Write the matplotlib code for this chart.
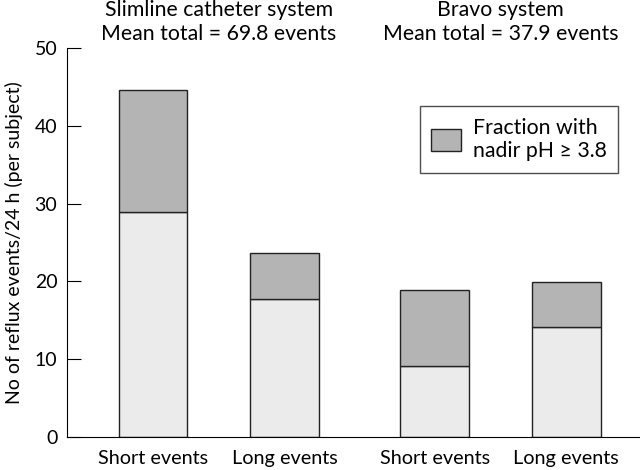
import numpy as np
import matplotlib.pyplot as plt
from matplotlib.patches import Patch

categories = ['Short events', 'Long events', 'Short events', 'Long events']
total = [44.6, 23.6, 18.9, 19.9]
lower = [28.9, 17.7, 9.1, 14.2]
upper = [t - l for t, l in zip(total, lower)]
x = [0, 1, 2.14, 3.14]

plt.rcParams['font.family'] = ['Lato', 'DejaVu Sans']

fig = plt.figure(figsize=(6.4, 4.7), dpi=100)
ax = fig.add_axes([0.1047, 0.0702, 0.8953, 0.8277])

ax.bar(x, lower, width=0.52, color='#ebebeb', edgecolor='#222222', linewidth=1)
ax.bar(x, upper, bottom=lower, width=0.52, color='#b4b4b4', edgecolor='#222222', linewidth=1)

ax.set_xlim(-0.654, 3.70)
ax.set_ylim(0, 50)
ax.set_yticks([0, 10, 20, 30, 40, 50])
ax.set_xticks(x)
ax.set_xticklabels(categories, fontsize=14.3)
ax.tick_params(axis='x', length=0, pad=9)
ax.tick_params(axis='y', labelsize=14, length=10, direction='in', pad=7)
ax.spines['top'].set_visible(False)
ax.spines['right'].set_visible(False)
ax.set_ylabel('No of reflux events/24 h (per subject)', fontsize=14, labelpad=8)

ax.text(0.5, 1.01, 'Slimline catheter system\nMean total = 69.8 events',
        transform=ax.get_xaxis_transform(), ha='center', va='bottom', fontsize=15.3, linespacing=1.25)
ax.text(2.64, 1.01, 'Bravo system\nMean total = 37.9 events',
        transform=ax.get_xaxis_transform(), ha='center', va='bottom', fontsize=15.3, linespacing=1.25)

leg = ax.legend(handles=[Patch(facecolor='#b4b4b4', edgecolor='#222222', label='Fraction with\nnadir pH \u2265 3.8')],
                loc='upper right', bbox_to_anchor=(0.962, 0.851), fontsize=15.3, fancybox=False,
                frameon=True, handlelength=1.4, handleheight=1.2, borderpad=0.55,
                handletextpad=0.55, borderaxespad=0)
leg.get_frame().set_edgecolor('#222222')
leg.get_frame().set_linewidth(1)
for t in leg.get_texts():
    t.set_linespacing(1.2)

fig.savefig('out.png')
